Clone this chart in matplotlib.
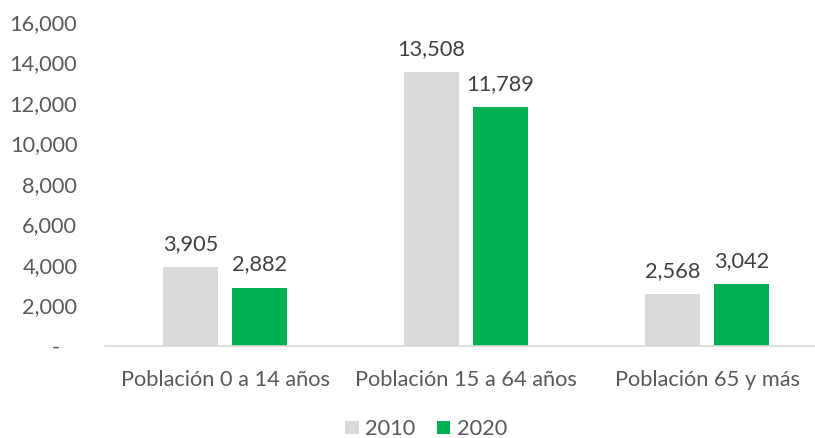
import matplotlib
matplotlib.use('Agg')
import matplotlib.pyplot as plt
import numpy as np

plt.rcParams['font.family'] = ['Lato', 'DejaVu Sans']

categorias = ['Población 0 a 14 años', 'Población 15 a 64 años', 'Población 65 y más']
anios = ['2010', '2020']
valores_2010 = [3905, 13508, 2568]
valores_2020 = [2882, 11789, 3042]
colores = ['#D9D9D9', '#00B050']

fig = plt.figure(figsize=(8.15, 4.38), dpi=100)
ax = fig.add_axes([105 / 815, 92 / 438, 710 / 815, 324 / 438])

x = np.arange(len(categorias))
ancho = 0.228
desp = 0.143
texto = '#595959'
fs = 15.7

for serie, off, col, lab in [(valores_2010, -desp, colores[0], anios[0]),
                             (valores_2020, desp, colores[1], anios[1])]:
    barras = ax.bar(x + off, serie, ancho, color=col, label=lab)
    for b, v in zip(barras, serie):
        ax.text(b.get_x() + b.get_width() / 2, v + 650, f'{v:,}',
                ha='center', va='bottom', fontsize=fs, color='#404040')

ax.set_xlim(-0.498, 2.448)
ax.set_ylim(0, 16000)
ax.set_yticks(np.arange(0, 16001, 2000))
ax.set_yticklabels(['-   '] + [f'{v:,}' for v in range(2000, 16001, 2000)])
ax.set_xticks(x)
ax.set_xticklabels(categorias)
ax.tick_params(axis='both', length=0, labelsize=fs, colors=texto)
ax.tick_params(axis='y', pad=20)
ax.tick_params(axis='x', pad=17)

for s in ['top', 'right', 'left']:
    ax.spines[s].set_visible(False)
ax.spines['bottom'].set_color('#D9D9D9')
ax.spines['bottom'].set_linewidth(1.2)

fig.legend(loc='center', bbox_to_anchor=(0.523, 0.02), ncol=2, frameon=False,
           fontsize=fs, handlelength=0.6, handleheight=0.6, columnspacing=1.0,
           handletextpad=0.3, labelcolor=texto)

fig.savefig('out.png', dpi=100)
